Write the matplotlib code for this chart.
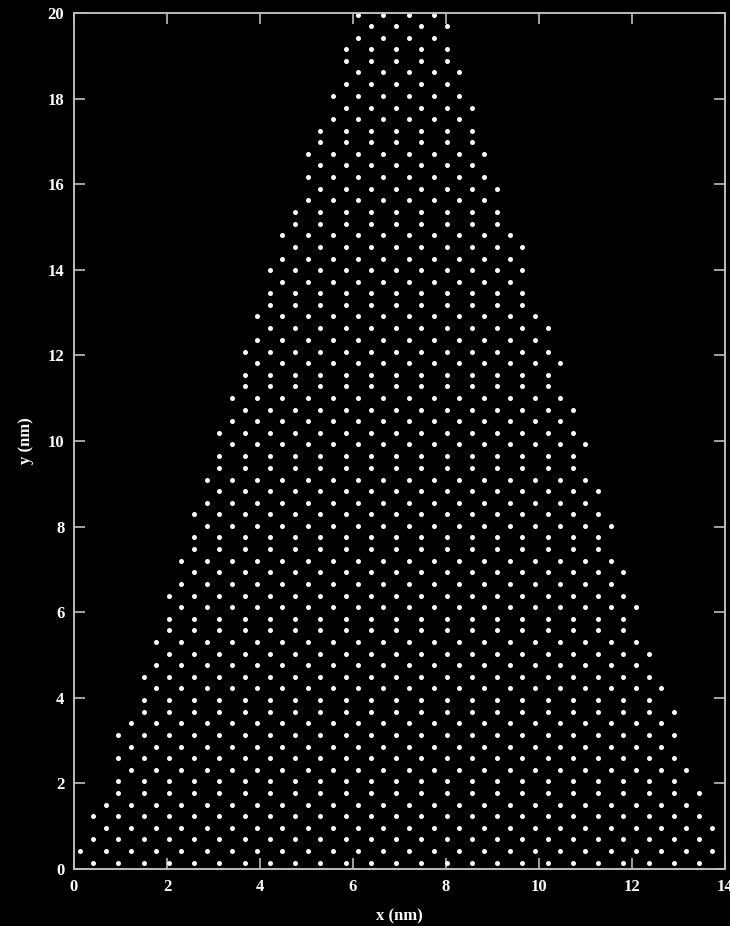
import numpy as np
import matplotlib
matplotlib.use("Agg")
import matplotlib.pyplot as plt

# Lattice rows (bottom to top): height of each atomic row (nm)
row_y = [0.15, 0.42, 0.69, 0.96, 1.23, 1.50, 1.77, 2.05, 2.32, 2.59,
         2.86, 3.13, 3.40, 3.67, 3.95, 4.22, 4.49, 4.76, 5.03, 5.30,
         5.58, 5.85, 6.12, 6.39, 6.66, 6.93, 7.20, 7.48, 7.75, 8.02,
         8.29, 8.56, 8.83, 9.10, 9.38, 9.65, 9.92, 10.19, 10.46, 10.73,
         11.00, 11.28, 11.55, 11.82, 12.09, 12.36, 12.63, 12.91, 13.18, 13.45,
         13.72, 13.99, 14.26, 14.53, 14.81, 15.08, 15.35, 15.62, 15.89, 16.16,
         16.44, 16.71, 16.98, 17.25, 17.52, 17.79, 18.06, 18.34, 18.61, 18.88,
         19.15, 19.42, 19.69, 19.96]
# sub-lattice of each row (0 = A sites, 1 = B sites)
row_phase = [0, 1, 0, 1, 0, 1, 0, 0, 1, 0, 1, 0, 1, 0,
             0, 1, 0, 1, 0, 1, 0, 0, 1, 0, 1, 0, 1, 0,
             0, 1, 0, 1, 0, 1, 0, 0, 1, 0, 1, 0, 1, 0,
             0, 1, 0, 1, 0, 1, 0, 0, 1, 0, 1, 0, 1, 0,
             0, 1, 0, 1, 0, 1, 0, 0, 1, 0, 1, 0, 1, 0,
             0, 1, 0, 1]
# first and last occupied site index in each row
row_kmin = [0, 0, 0, 1, 0, 1, 1, 1, 2, 1, 2, 1, 2, 2, 2, 3, 2, 3, 3, 3, 3, 3, 4, 3, 4, 4, 4,
            4, 4, 5, 4, 5, 5, 5, 5, 5, 6, 5, 6, 6, 6, 6, 6, 7, 6, 7, 7, 7, 7, 7, 8, 7, 8,
            8, 8, 8, 8, 9, 9, 9, 9, 9, 9, 9, 10, 10, 10, 10, 11, 10, 10, 11, 11, 11]
row_kmax = [24, 25, 24, 25, 24, 24, 24, 23, 24, 23, 23, 23, 23, 23, 22, 23, 22, 22, 22, 22, 21, 21, 22, 21, 21, 21, 21,
            20, 20, 21, 20, 20, 20, 20, 19, 19, 20, 19, 19, 19, 19, 18, 18, 19, 18, 18, 18, 18, 17, 17, 17, 17, 17,
            17, 17, 16, 16, 16, 16, 16, 15, 16, 15, 15, 15, 15, 15, 14, 15, 14, 14, 14, 14, 14]
site_spacing = 0.543          # nm, spacing of sites along a row
site_origin = [0.41, 0.1385]  # nm, x of site 0 for A and B rows

xticks = [0, 2, 4, 6, 8, 10, 12, 14]
yticks = [0, 2, 4, 6, 8, 10, 12, 14, 16, 18, 20]

xs, ys = [], []
for y, ph, k0, k1 in zip(row_y, row_phase, row_kmin, row_kmax):
    for k in range(k0, k1 + 1):
        xs.append(site_origin[ph] + k * site_spacing)
        ys.append(y)

fig = plt.figure(figsize=(7.30, 9.26), dpi=100, facecolor="black")
ax = fig.add_axes([74 / 730, 1 - 869 / 926, (725 - 74) / 730, (869 - 13) / 926])
ax.set_facecolor("black")
ax.plot(xs, ys, linestyle="none", marker="o", markersize=3.6,
        markerfacecolor="white", markeredgecolor="none")

ax.set_xlim(0, 14)
ax.set_ylim(0, 20)
ax.set_xticks(xticks)
ax.set_yticks(yticks)

spine_col = "#bdbdbd"
for s in ax.spines.values():
    s.set_color(spine_col)
    s.set_linewidth(1.4)
ax.tick_params(direction="in", length=8, width=1.2, color=spine_col,
               top=True, right=True, labelcolor="white", pad=7)
fam = ["Liberation Serif", "DejaVu Serif"]
for lab in ax.get_xticklabels() + ax.get_yticklabels():
    lab.set_fontfamily(fam)
    lab.set_fontweight("bold")
    lab.set_fontsize(12)
    lab.set_clip_on(False)

ax.set_xlabel("x (nm)", family=fam, fontweight="bold", fontsize=12,
              color="white", labelpad=10)
ax.set_ylabel("y (nm)", family=fam, fontweight="bold", fontsize=12,
              color="white", labelpad=10)

fig.savefig("out.png", dpi=100, facecolor="black")
